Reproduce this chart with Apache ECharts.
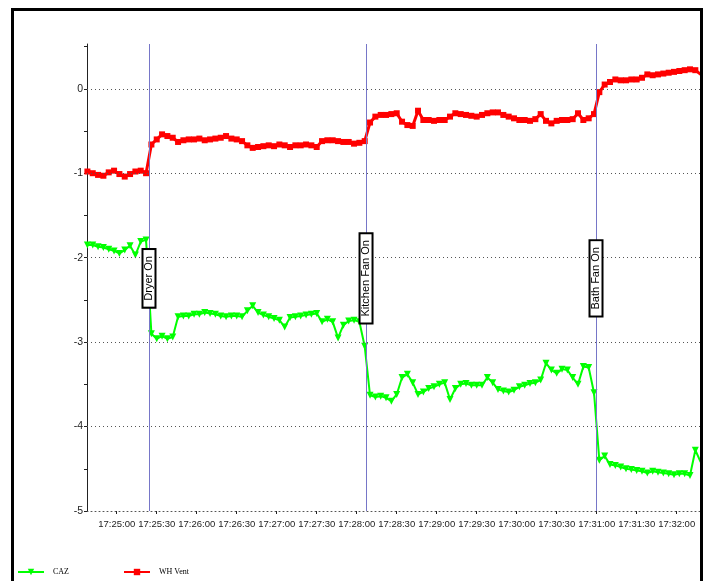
<!DOCTYPE html>
<html>
<head>
<meta charset="utf-8">
<script src="https://cdn.jsdelivr.net/npm/echarts@6/dist/echarts.min.js"></script>
<style>
html,body{margin:0;padding:0;background:#fff;}
#chart{width:709px;height:581px;}
</style>
</head>
<body>
<div id="chart"></div>
<script>
// Sample times: seconds after 17:24:00, one reading every 4 s starting 17:24:38
const sampleStart = 38;
const sampleStep = 4;

// CAZ (green) readings
const cazValues = [
  -1.85, -1.85, -1.87, -1.88, -1.90, -1.92, -1.95, -1.91, -1.86, -1.97,
  -1.81, -1.79, -2.90, -2.96, -2.93, -2.96, -2.94, -2.70, -2.69, -2.69,
  -2.67, -2.67, -2.65, -2.66, -2.67, -2.69, -2.70, -2.69, -2.69, -2.70,
  -2.63, -2.57, -2.65, -2.68, -2.70, -2.72, -2.74, -2.82, -2.71, -2.70,
  -2.69, -2.68, -2.67, -2.66, -2.76, -2.73, -2.76, -2.95, -2.80, -2.75,
  -2.74, -2.76, -3.05, -3.63, -3.65, -3.64, -3.66, -3.70, -3.62, -3.42,
  -3.38, -3.48, -3.62, -3.59, -3.55, -3.53, -3.50, -3.48, -3.68, -3.55,
  -3.50, -3.49, -3.51, -3.51, -3.51, -3.42, -3.48, -3.56, -3.58, -3.59,
  -3.57, -3.53, -3.51, -3.49, -3.48, -3.45, -3.25, -3.33, -3.37, -3.32,
  -3.33, -3.42, -3.50, -3.29, -3.30, -3.60, -4.40, -4.35, -4.45, -4.46,
  -4.48, -4.50, -4.51, -4.52, -4.53, -4.55, -4.53, -4.54, -4.55, -4.56,
  -4.57, -4.56, -4.56, -4.58, -4.28, -4.42
];

// WH Vent (red) readings
const whVentValues = [
  -0.98, -1.00, -1.02, -1.03, -0.99, -0.97, -1.01, -1.04, -1.01, -0.98,
  -0.97, -1.00, -0.66, -0.60, -0.54, -0.56, -0.58, -0.63, -0.61, -0.60,
  -0.60, -0.59, -0.61, -0.60, -0.59, -0.58, -0.56, -0.59, -0.60, -0.62,
  -0.67, -0.70, -0.69, -0.68, -0.67, -0.68, -0.66, -0.67, -0.69, -0.67,
  -0.67, -0.66, -0.67, -0.69, -0.62, -0.61, -0.61, -0.62, -0.63, -0.63,
  -0.65, -0.64, -0.62, -0.40, -0.33, -0.31, -0.31, -0.30, -0.29, -0.39,
  -0.43, -0.44, -0.26, -0.37, -0.37, -0.38, -0.37, -0.37, -0.33, -0.29,
  -0.30, -0.31, -0.32, -0.33, -0.31, -0.29, -0.28, -0.28, -0.31, -0.33,
  -0.35, -0.37, -0.37, -0.38, -0.36, -0.30, -0.38, -0.41, -0.38, -0.37,
  -0.37, -0.36, -0.29, -0.37, -0.35, -0.30, -0.04, 0.05, 0.08, 0.11,
  0.10, 0.10, 0.11, 0.11, 0.13, 0.17, 0.16, 0.17, 0.18, 0.19,
  0.20, 0.21, 0.22, 0.23, 0.22, 0.17
];

// Events (seconds after 17:24:00)
const eventNames = ['Dryer On', 'Kitchen Fan On', 'Bath Fan On'];
const eventSecs = [84.2, 247, 419.5];

// Axis ticks
const xTickSecs = [60, 90, 120, 150, 180, 210, 240, 270, 300, 330, 360, 390, 420, 450, 480];
const xTickLabels = ['17:25:00', '17:25:30', '17:26:00', '17:26:30', '17:27:00', '17:27:30', '17:28:00',
  '17:28:30', '17:29:00', '17:29:30', '17:30:00', '17:30:30', '17:31:00', '17:31:30', '17:32:00'];
const yLabelValues = [-5, -4, -3, -2, -1, 0];
const yTickValues = [-5, -4.5, -4, -3.5, -3, -2.5, -2, -1.5, -1, -0.5, 0, 0.5];
const gridLineValues = [-4, -3, -2, -1, 0];

const toPairs = vals => vals.map((v, i) => [sampleStart + i * sampleStep, v]);

const axisFont = "'Liberation Sans', Arial, sans-serif";

const chart = echarts.init(document.getElementById('chart'), null, {renderer: 'canvas'});
chart.setOption({
  animation: false,
  backgroundColor: '#fff',
  grid: {left: 87, right: 9, top: 44, bottom: 70, containLabel: false},
  legend: {
    data: ['CAZ', 'WH Vent'],
    left: 17, top: 568, padding: 0,
    itemWidth: 26, itemHeight: 8, itemGap: 54,
    textStyle: {fontFamily: "'Liberation Serif', serif", fontSize: 8, color: '#000', padding: [0, 0, 0, 4]}
  },
  xAxis: {
    type: 'value',
    min: 37.7, max: 497.5,
    axisLine: {show: true, onZero: false, lineStyle: {color: '#555', type: [1, 3], width: 1}},
    axisTick: {show: true, customValues: xTickSecs, length: 3, lineStyle: {color: '#222'}},
    axisLabel: {
      customValues: xTickSecs,
      margin: 8,
      fontSize: 9.5,
      fontFamily: axisFont,
      color: '#222',
      hideOverlap: false,
      showMinLabel: true,
      showMaxLabel: true,
      formatter: v => { const i = xTickSecs.indexOf(Math.round(v)); return i >= 0 ? xTickLabels[i] : ''; }
    },
    splitLine: {show: false}
  },
  yAxis: {
    type: 'value',
    min: -5, max: 0.53, interval: 0.5,
    axisLine: {show: true, lineStyle: {color: '#222', width: 1}},
    axisTick: {show: true, customValues: yTickValues, length: 3, lineStyle: {color: '#222'}},
    axisLabel: {
      customValues: yLabelValues,
      margin: 4,
      fontSize: 10.5,
      fontFamily: axisFont,
      color: '#222',
      hideOverlap: false,
      formatter: v => (Math.abs(v - Math.round(v)) < 1e-6 && yLabelValues.indexOf(Math.round(v)) >= 0) ? String(Math.round(v)) : ''
    },
    splitLine: {show: false}
  },
  series: [
    {
      name: 'CAZ',
      type: 'line',
      data: toPairs(cazValues),
      symbol: 'triangle',
      symbolRotate: 180,
      symbolSize: 7,
      showAllSymbol: true,
      itemStyle: {color: '#00ff00'},
      lineStyle: {color: '#00ff00', width: 2},
      z: 3,
      markLine: {
        silent: true,
        symbol: ['none', 'none'],
        label: {show: false},
        data: gridLineValues.map(v => ({yAxis: v, lineStyle: {type: [1, 3], color: '#555', width: 1}}))
          .concat(eventSecs.map(t => ({xAxis: t, lineStyle: {type: 'solid', color: '#7676c8', width: 1}})))
      }
    },
    {
      name: 'WH Vent',
      type: 'line',
      data: toPairs(whVentValues),
      symbol: 'rect',
      symbolSize: 6,
      showAllSymbol: true,
      itemStyle: {color: '#ff0000'},
      lineStyle: {color: '#ff0000', width: 3},
      z: 4,
      markPoint: {
        silent: true,
        symbol: 'rect',
        symbolSize: 1,
        itemStyle: {color: 'rgba(0,0,0,0)'},
        label: {
          show: true,
          position: 'inside',
          rotate: 90,
          formatter: '{b}',
          fontSize: 11,
          lineHeight: 11,
          fontFamily: "'Liberation Sans', Arial, sans-serif",
          color: '#000',
          backgroundColor: '#fff',
          borderColor: '#000',
          borderWidth: 2,
          padding: [0, 6, 0, 6]
        },
        data: eventNames.map((n, i) => ({name: n, coord: [eventSecs[i], -2.245]}))
      }
    }
  ],
  graphic: [{
    type: 'rect',
    z: 100,
    silent: true,
    shape: {x: 12.5, y: 9.5, width: 689, height: 640},
    style: {fill: 'none', stroke: '#000', lineWidth: 3}
  }]
});
</script>
</body>
</html>
